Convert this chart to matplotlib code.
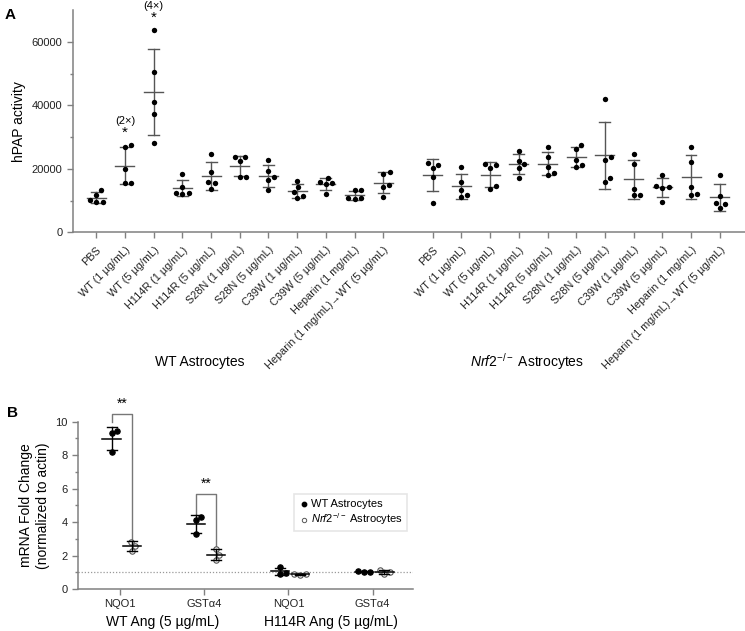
import numpy as np
import matplotlib
matplotlib.use("Agg")
import matplotlib.pyplot as plt

plt.rcParams['font.family'] = ['Liberation Sans', 'DejaVu Sans']
plt.rcParams['mathtext.fontset'] = 'custom'
plt.rcParams['mathtext.rm'] = 'Liberation Sans'
plt.rcParams['mathtext.it'] = 'Liberation Sans:italic'

# ---- panel A data (hPAP activity, 5 replicates per group) ----
treatments = ["PBS", "WT (1 µg/mL)", "WT (5 µg/mL)", "H114R (1 µg/mL)", "H114R (5 µg/mL)",
              "S28N (1 µg/mL)", "S28N (5 µg/mL)", "C39W (1 µg/mL)", "C39W (5 µg/mL)",
              "Heparin (1 mg/mL)", "Heparin (1 mg/mL)\u2192WT (5 µg/mL)"]
wt_astro = [
    [13300, 11900, 10300, 9600, 9400],
    [26800, 27400, 19800, 15500, 15600],
    [63700, 50500, 41000, 37300, 28200],
    [18300, 12200, 12300, 14300, 12500],
    [24600, 18900, 15900, 15400, 13700],
    [23700, 23700, 22400, 17300, 17400],
    [22700, 19300, 17400, 16600, 13200],
    [16300, 14300, 12700, 11500, 10900],
    [17100, 15500, 15800, 15200, 12200],
    [13200, 13200, 10700, 10400, 10800],
    [19000, 18500, 15000, 14300, 11000],
]
nrf2_astro = [
    [21700, 21300, 20300, 17500, 9300],
    [20500, 15800, 13400, 11700, 11000],
    [21300, 21400, 20200, 14600, 13500],
    [25700, 22600, 21400, 20300, 17100],
    [26900, 23700, 20600, 18600, 18200],
    [27600, 26200, 22700, 21200, 20600],
    [42100, 23600, 22800, 17100, 15700],
    [24800, 21400, 13700, 11600, 11700],
    [18100, 14200, 14100, 14500, 9700],
    [27000, 22000, 14300, 11700, 12100],
    [18100, 11400, 9300, 8800, 7600],
]

# ---- panel B data (mRNA fold change, 3 replicates) ----
genes = ["NQO1", "GSTα4", "NQO1", "GSTα4"]
ang_groups = ["WT Ang (5 µg/mL)", "H114R Ang (5 µg/mL)"]
b_wt = [[9.44, 9.32, 8.19], [4.28, 4.10, 3.27], [1.30, 0.92, 0.95], [1.08, 1.03, 0.99]]
b_nrf2 = [[2.83, 2.59, 2.29], [2.39, 2.03, 1.71], [0.92, 0.86, 0.87], [1.15, 1.00, 0.88]]

AX_COL = '#808080'


def swarm(vals, ypx, xpx, d=6.5):
    # simple beeswarm: x offsets (data units) so dots don't overlap
    vals = np.asarray(vals, float)
    offs = np.zeros(len(vals))
    placed = []
    for i in np.argsort(vals):
        y = vals[i] * ypx
        cands = [0.0]
        for px, py in placed:
            dy = abs(y - py)
            if dy < d:
                dx = np.sqrt(d * d - dy * dy)
                cands += [px + dx, px - dx]
        cands.sort(key=abs)
        for c in cands:
            if all((c - px) ** 2 + (y - py) ** 2 >= d * d - 1e-6 for px, py in placed):
                offs[i] = c
                break
        placed.append((offs[i], y))
    return offs / xpx


def style_axes(ax):
    for s in ['top', 'right']:
        ax.spines[s].set_visible(False)
    for s in ['left', 'bottom']:
        ax.spines[s].set_color(AX_COL)
        ax.spines[s].set_linewidth(1.1)
    ax.tick_params(colors=AX_COL, labelcolor='#222222', width=1, length=4)
    ax.tick_params(which='minor', colors=AX_COL, width=1, length=2.5)


fig = plt.figure(figsize=(7.45, 6.31), dpi=100)

# ================= panel A =================
axA = fig.add_axes([0.0976, 0.6318, 0.9024, 0.3524])
xs1 = np.arange(len(treatments)) * 1.0
xs2 = xs1 + 11.72
ypxA = 191 / 60000.0
xpxA = 28.76
for xs, groups in [(xs1, wt_astro), (xs2, nrf2_astro)]:
    for x, v in zip(xs, groups):
        v = np.array(v, float)
        m, sd = v.mean(), v.std(ddof=1)
        axA.scatter(x + swarm(v, ypxA, xpxA), v, s=15, color='black', zorder=3, linewidths=0)
        axA.plot([x - 0.33, x + 0.33], [m, m], color='#555555', lw=1.0, zorder=2)
        axA.plot([x, x], [m - sd, m + sd], color='#555555', lw=1.0, zorder=2)
        for e in (m - sd, m + sd):
            axA.plot([x - 0.19, x + 0.19], [e, e], color='#555555', lw=1.0, zorder=2)

axA.set_xlim(-0.82, 22.6)
axA.set_ylim(0, 70000)
axA.set_yticks([0, 20000, 40000, 60000])
axA.set_yticks([10000, 30000, 50000], minor=True)
axA.set_xticks(np.concatenate([xs1, xs2]))
axA.set_xticklabels(treatments + treatments, rotation=45, ha='right',
                    rotation_mode='anchor', fontsize=7.8)
axA.tick_params(axis='x', pad=5)
axA.tick_params(axis='y', labelsize=8)
axA.set_ylabel("hPAP activity", fontsize=10, labelpad=4)
style_axes(axA)

axA.text(xs1[1], 31200, "*", ha='center', va='center', fontsize=11)
axA.text(xs1[1], 35200, "(2×)", ha='center', va='center', fontsize=8)
axA.text(xs1[2], 67600, "*", ha='center', va='center', fontsize=11, clip_on=False)
axA.text(xs1[2], 71300, "(4×)", ha='center', va='center', fontsize=8, clip_on=False)

fig.text(200 / 745, 1 - 362 / 631, "WT Astrocytes", ha='center', va='center', fontsize=10)
fig.text(527 / 745, 1 - 362 / 631, r"$\it{Nrf2}^{-/-}$ Astrocytes", ha='center', va='center', fontsize=10)
fig.text(5 / 745, 1 - 15 / 631, "A", fontsize=11, fontweight='bold', va='center')

# ================= panel B =================
axB = fig.add_axes([0.1047, 0.0666, 0.4497, 0.2651])
xb = np.arange(len(genes)) * 1.0
ypxB = 16.76
xpxB = 84.2
for i in range(len(genes)):
    for vals, dx, fc in [(b_wt[i], -0.1, 'black'), (b_nrf2[i], 0.14, 'white')]:
        v = np.array(vals, float)
        m, sd = v.mean(), v.std(ddof=1)
        x = xb[i] + dx
        axB.scatter(x + swarm(v, ypxB, xpxB, d=6.0), v, s=15, facecolor=fc,
                    edgecolor='black' if fc == 'black' else '#555555', linewidths=0.8, zorder=3)
        axB.plot([x - 0.11, x + 0.11], [m, m], color='black', lw=1.1, zorder=4)
        axB.plot([x, x], [m - sd, m + sd], color='black', lw=1.0, zorder=4)
        for e in (m - sd, m + sd):
            axB.plot([x - 0.06, x + 0.06], [e, e], color='black', lw=1.0, zorder=4)

axB.axhline(1, color='#999999', lw=0.9, ls=(0, (1, 1.5)), zorder=1)

# significance brackets
for i, top, lft, rgt, star in [(0, 10.46, 10.0, 2.8, 11.07), (1, 5.65, 4.5, 2.42, 6.3)]:
    x1, x2 = xb[i] - 0.1, xb[i] + 0.14
    axB.plot([x1, x1, x2, x2], [lft, top, top, rgt], color='#777777', lw=1.0, clip_on=False)
    axB.text((x1 + x2) / 2, star, "**", ha='center', va='center', fontsize=10, clip_on=False)

axB.set_xlim(-0.5, 3.48)
axB.set_ylim(0, 10)
axB.set_yticks([0, 2, 4, 6, 8, 10])
axB.set_yticks([1, 3, 5, 7, 9], minor=True)
axB.set_xticks(xb)
axB.set_xticklabels(genes, fontsize=8)
axB.tick_params(axis='y', labelsize=8)
axB.set_ylabel("mRNA Fold Change\n(normalized to actin)", fontsize=10, labelpad=4)
style_axes(axB)

for j, name in enumerate(ang_groups):
    axB.text(2 * j + 0.5, -0.2, name, transform=axB.get_xaxis_transform(),
             ha='center', va='center', fontsize=10)

h1 = axB.scatter([], [], s=10, color='black')
h2 = axB.scatter([], [], s=10, facecolor='white', edgecolor='#555555', linewidths=0.7)
leg = axB.legend([h1, h2], ["WT Astrocytes", r"$\it{Nrf2}^{-/-}$ Astrocytes"],
                 loc='upper right', bbox_to_anchor=(1.0, 0.6), fontsize=8,
                 frameon=True, fancybox=False, handletextpad=0.1, borderpad=0.4,
                 labelspacing=0.2, handlelength=1.0)
leg.get_frame().set_edgecolor('#e0e0e0')
leg.get_frame().set_linewidth(1.2)
fig.text(7 / 745, 1 - 413 / 631, "B", fontsize=11, fontweight='bold', va='center')

fig.savefig("out.png", dpi=100)
